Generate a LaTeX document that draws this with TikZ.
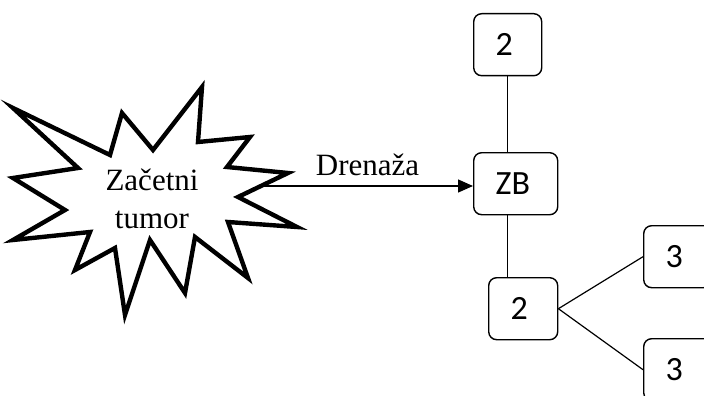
\documentclass[tikz,border=0pt]{standalone}
\usepackage{fontspec}
\setmainfont{Liberation Serif}
\newfontfamily\boxfont{Carlito}
\usetikzlibrary{arrows.meta}
\tikzset{
  lymph/.style={draw=black, line width=1.4pt, rounded corners=8pt, fill=white,
    minimum height=62pt, inner xsep=22pt, inner ysep=0pt, align=left,
    font=\boxfont\fontsize{34}{38}\selectfont},
  link/.style={draw=black, line width=1.2pt},
  burstline/.style={draw=black, line width=4.4pt, line join=miter, miter limit=10},
  flow/.style={draw=black, line width=1.4pt, -{Triangle[length=15pt,width=13pt]}},
  serif/.style={font=\fontsize{31}{38}\selectfont}
}
\begin{document}
\begin{tikzpicture}[x=1pt, y=-1pt]
  \useasboundingbox (0,0) rectangle (704,396);
  \clip (0,0) rectangle (704,396);

  % initial tumour: star burst outline
  \draw[burstline] (13,108) -- (110,155) -- (122,113) -- (153,150) -- (202,87)
    -- (198,142) -- (250,137) -- (227,167) -- (288,173) -- (238,197)
    -- (297,227) -- (228,222) -- (248,278) -- (195,237) -- (185,293)
    -- (150,240) -- (125,315) -- (115,248) -- (75,270) -- (90,232)
    -- (13,240) -- (65,210) -- (13,178) -- (78,168) -- cycle;
  \node[serif, align=center, inner sep=0pt] (tumor) at (152,199)
    {Začetni\\tumor};
  \coordinate (burst) at (262,186);

  % lymph nodes
  \node[lymph, text width=24pt, anchor=north west] (top) at (473,13) {2};
  \node[lymph, text width=40pt, anchor=north west] (zb) at (473,152) {ZB};
  \node[lymph, text width=25pt, anchor=north west] (mid) at (488,277) {2};
  \node[lymph, text width=24pt, anchor=north west] (ra) at (643,225) {3};
  \node[lymph, text width=24pt, anchor=north west] (rb) at (643,338) {3};

  % drainage arrow
  \draw[flow] (burst) -- (burst -| zb.west)
    node[midway, above=9pt, serif, inner sep=0pt] (drain) {Drenaža};

  % lymphatic connections
  \draw[link] (top.south) -- (zb.north -| top.south);
  \draw[link] (zb.south -| top.south) -- (mid.north -| top.south);
  \draw[link] (mid.east) -- (ra.west);
  \draw[link] (mid.east) -- (rb.west);
\end{tikzpicture}
\end{document}
